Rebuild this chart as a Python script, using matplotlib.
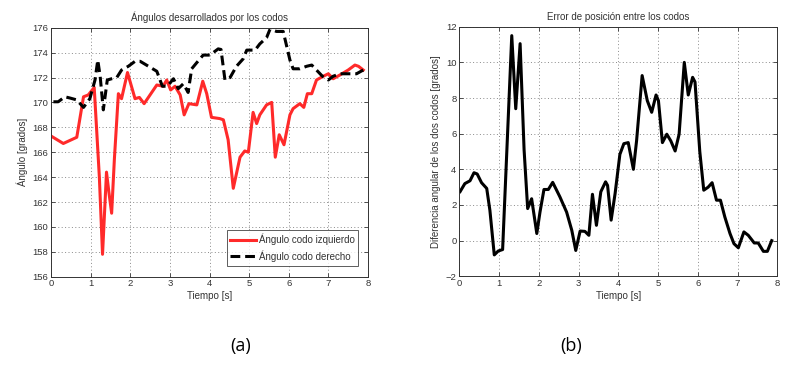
import matplotlib
matplotlib.use("Agg")
import matplotlib.pyplot as plt

plt.rcParams['font.family'] = ['Liberation Sans', 'DejaVu Sans']

# Left panel data
t_izq = [0.0, 0.31, 0.65, 0.82, 0.94, 1.09, 1.22, 1.30, 1.40, 1.46, 1.53, 1.60, 1.70, 1.78, 1.93,
         2.12, 2.23, 2.35, 2.67, 2.83, 2.92, 3.02, 3.13, 3.26, 3.36, 3.48, 3.68, 3.83, 3.93, 4.05,
         4.26, 4.35, 4.47, 4.60, 4.77, 4.89, 4.98, 5.10, 5.19, 5.27, 5.44, 5.57, 5.66, 5.76, 5.88,
         6.03, 6.11, 6.28, 6.38, 6.47, 6.58, 6.70, 6.87, 7.0, 7.12, 7.29, 7.50, 7.67, 7.76, 7.88]
v_izq = [167.3, 166.7, 167.2, 170.45, 170.6, 171.2, 164.0, 157.8, 164.4, 162.8, 161.1, 165.5, 170.7, 170.3, 172.4,
         170.3, 170.4, 169.9, 171.4, 171.3, 171.8, 171.0, 171.3, 170.6, 169.0, 169.9, 169.8, 171.7, 170.7, 168.8,
         168.7, 168.6, 167.0, 163.1, 165.6, 166.1, 166.0, 169.2, 168.3, 169.0, 169.8, 170.0, 165.6, 167.4, 166.6,
         169.0, 169.5, 169.9, 169.6, 170.7, 170.7, 171.8, 172.1, 172.3, 171.9, 172.2, 172.6, 173.0, 172.9, 172.6]

t_der = [0.06, 0.18, 0.35, 0.48, 0.65, 0.82, 0.98, 1.11, 1.18, 1.24, 1.32, 1.42, 1.53, 1.66, 1.78,
         1.95, 2.12, 2.25, 2.46, 2.67, 2.81, 2.94, 3.09, 3.21, 3.34, 3.46, 3.55, 3.68, 3.84, 4.01,
         4.22, 4.29, 4.39, 4.52, 4.68, 4.85, 4.94, 5.15, 5.27, 5.44, 5.53, 5.69, 5.86, 6.03, 6.11,
         6.28, 6.45, 6.58, 6.70, 6.85, 7.0, 7.12, 7.29, 7.50, 7.71, 7.88]
v_der = [170.05, 170.05, 170.45, 170.35, 170.2, 169.6, 170.3, 171.8, 173.4, 172.1, 169.4, 171.8, 171.9, 172.0, 172.6,
         172.9, 173.3, 173.3, 172.9, 172.5, 171.3, 171.3, 171.9, 171.1, 171.5, 170.8, 172.7, 173.2, 173.8, 173.8,
         174.3, 174.25, 171.8, 172.0, 172.9, 173.5, 174.2, 174.2, 174.7, 175.2, 175.9, 175.7, 175.7, 173.4, 172.7,
         172.7, 172.9, 173.0, 172.6, 172.1, 171.8, 172.1, 172.3, 172.3, 172.3, 172.6]

# Right panel data
t_err = [0.02, 0.14, 0.27, 0.37, 0.45, 0.56, 0.69, 0.77, 0.88, 0.98, 1.09, 1.32, 1.42, 1.53, 1.63,
         1.72, 1.82, 1.95, 2.03, 2.13, 2.24, 2.35, 2.53, 2.70, 2.83, 2.93, 3.04, 3.16, 3.26, 3.35,
         3.45, 3.56, 3.68, 3.73, 3.82, 3.92, 4.04, 4.14, 4.25, 4.38, 4.46, 4.60, 4.73, 4.84, 4.95,
         5.01, 5.11, 5.22, 5.32, 5.43, 5.53, 5.66, 5.76, 5.87, 5.93, 6.05, 6.15, 6.26, 6.36, 6.47,
         6.57, 6.68, 6.81, 6.91, 7.02, 7.16, 7.27, 7.42, 7.52, 7.65, 7.75, 7.86]
v_err = [2.75, 3.2, 3.36, 3.81, 3.74, 3.25, 2.93, 1.7, -0.8, -0.58, -0.5, 11.5, 7.4, 11.05, 5.1,
         1.8, 2.35, 0.4, 1.6, 2.87, 2.87, 3.27, 2.46, 1.6, 0.58, -0.55, 0.54, 0.52, 0.3, 2.6,
         0.86, 2.74, 3.3, 3.1, 1.15, 2.65, 4.84, 5.44, 5.5, 4.0, 5.6, 9.26, 7.85, 7.2, 8.17,
         7.85, 5.5, 5.97, 5.6, 5.03, 5.97, 10.0, 8.17, 9.16, 8.9, 5.0, 2.83, 3.0, 3.25, 2.27,
         2.27, 1.33, 0.4, -0.17, -0.4, 0.49, 0.3, -0.13, -0.13, -0.6, -0.6, 0.0]

fig = plt.figure(figsize=(7.96, 3.65), dpi=100)
ax1 = fig.add_axes([0.0641, 0.2419, 0.3982, 0.6822])
ax2 = fig.add_axes([0.577, 0.243, 0.3995, 0.6838])

txtc = '#333333'
for ax in (ax1, ax2):
    ax.grid(True, linestyle=(0, (1, 2.5)), color='#8a8a8a', linewidth=0.7)
    ax.tick_params(direction='in', labelsize=6.8, colors=txtc, length=3, width=0.6,
                   top=True, right=True, pad=2)
    for s in ax.spines.values():
        s.set_linewidth(0.7)
        s.set_color('#333333')
    ax.set_xlim(0, 8)
    ax.set_xticks(range(0, 9))
    ax.set_axisbelow(True)

ax1.plot(t_izq, v_izq, color='#ff2a2a', lw=2.2, label='Ángulo codo izquierdo')
ax1.plot(t_der, v_der, color='black', lw=2.2, linestyle=(0, (3.2, 1.6)), label='Ángulo codo derecho')
ax1.set_ylim(156, 176)
ax1.set_yticks(range(156, 177, 2))
ax1.set_title('Ángulos desarrollados por los codos', fontsize=7, color=txtc, pad=5)
ax1.set_xlabel('Tiempo [s]', fontsize=7, color=txtc, labelpad=2)
ax1.set_ylabel('Ángulo [grados]', fontsize=7, color=txtc, labelpad=3)
leg = ax1.legend(loc='lower right', fontsize=7, frameon=True, fancybox=False,
                 edgecolor='#333333', handlelength=2.6, borderpad=0.4, labelspacing=0.5,
                 handletextpad=0.3, bbox_to_anchor=(0.985, 0.025))
leg.get_frame().set_linewidth(0.7)
for txt in leg.get_texts():
    txt.set_color(txtc)

ax2.plot(t_err, v_err, color='black', lw=2.2)
ax2.set_ylim(-2, 12)
ax2.set_yticks(range(-2, 13, 2))
ax2.set_title('Error de posición entre los codos', fontsize=7, color=txtc, pad=5)
ax2.set_xlabel('Tiempo [s]', fontsize=7, color=txtc, labelpad=2)
ax2.set_ylabel('Diferencia angular de los dos codos [grados]', fontsize=7, color=txtc, labelpad=3)

fig.text(0.302, 0.052, '(a)', fontsize=13, family=['Open Sans', 'DejaVu Sans'], ha='center', va='center')
fig.text(0.718, 0.052, '(b)', fontsize=13, family=['Open Sans', 'DejaVu Sans'], ha='center', va='center')

fig.savefig('out.png', dpi=100)
